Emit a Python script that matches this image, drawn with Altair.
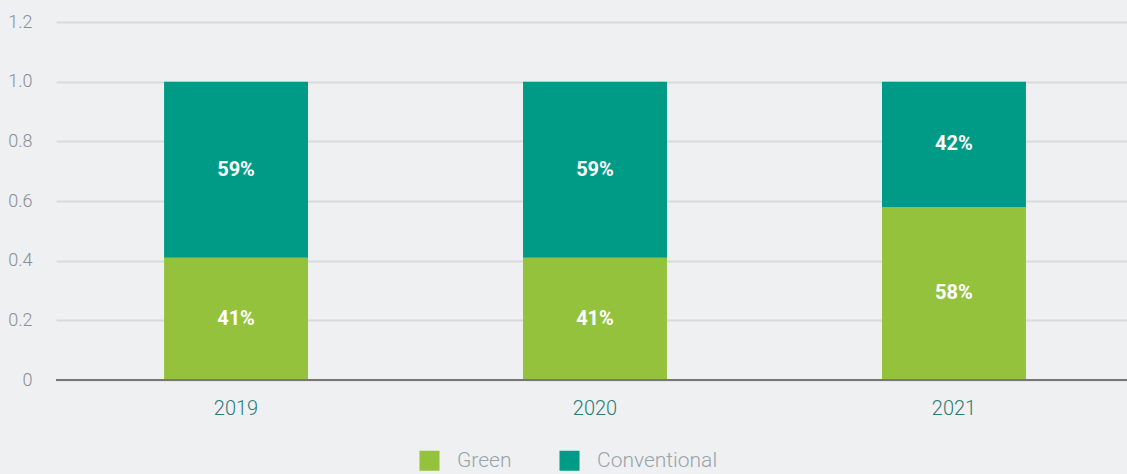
import altair as alt
import pandas as pd

years = ["2019", "2020", "2021"]
green = [0.41, 0.41, 0.58]
conventional = [0.59, 0.59, 0.42]
series = ["Green", "Conventional"]
colors = ["#95c23d", "#009b87"]

rows = []
for i, y in enumerate(years):
    rows.append({"year": y, "type": "Green", "value": green[i], "order": 0,
                 "start": 0.0, "end": green[i], "label": f"{round(green[i]*100)}%"})
    rows.append({"year": y, "type": "Conventional", "value": conventional[i], "order": 1,
                 "start": green[i], "end": green[i] + conventional[i],
                 "label": f"{round(conventional[i]*100)}%"})
df = pd.DataFrame(rows)
df["mid"] = (df["start"] + df["end"]) / 2

FONT = "Roboto"

xscale = alt.Scale(paddingInner=0.599, paddingOuter=0.301, range=[0, 1078])

xenc = alt.X("year:N", title=None, sort=years, scale=xscale,
             axis=alt.Axis(labelAngle=0, labelFontSize=20, labelColor="#2e7b76",
                           labelFont=FONT, labelFontWeight=300, labelPadding=18,
                           ticks=False, domain=False))

bars = alt.Chart(df).mark_bar().encode(
    x=xenc,
    y=alt.Y("start:Q", title=None,
            scale=alt.Scale(domain=[0, 1.2], nice=False),
            axis=alt.Axis(values=[0, 0.2, 0.4, 0.6, 0.8, 1.0, 1.2],
                          labelExpr="datum.value == 0 ? '0' : format(datum.value, '.1f')",
                          labelFontSize=18, labelColor="#8a8f93", labelFont=FONT,
                          labelFontWeight=300,
                          labelPadding=24, ticks=False, domain=False,
                          grid=True, gridColor="#d8dadc", gridWidth=2)),
    y2="end:Q",
    color=alt.Color("type:N", sort=series,
                    scale=alt.Scale(domain=series, range=colors),
                    legend=alt.Legend(title=None, orient="none", direction="horizontal",
                                      legendX=363, legendY=428,
                                      symbolType="square", symbolSize=400,
                                      symbolStrokeWidth=0, labelFontSize=21,
                                      labelColor="#98a4aa", labelFont=FONT,
                                      labelFontWeight=300,
                                      columnPadding=47, labelOffset=17)),
)

text = alt.Chart(df).mark_text(color="white", fontWeight="bold", fontSize=20,
                               font=FONT, baseline="middle").encode(
    x=alt.X("year:N", sort=years),
    y=alt.Y("mid:Q"),
    text="label:N",
)

base = alt.Chart(pd.DataFrame({"v": [0]})).mark_rule(color="#767676", strokeWidth=2).encode(
    y="v:Q"
)

chart = alt.layer(bars, base, text).properties(
    width=1071, height=358,
    background="#eef0f2",
    autosize=alt.AutoSizeParams(type="none"),
    padding={"left": 56, "top": 22, "right": 0, "bottom": 94},
).configure_view(stroke=None)

chart.save("out.html", embed_options={"renderer": "svg", "actions": False})
